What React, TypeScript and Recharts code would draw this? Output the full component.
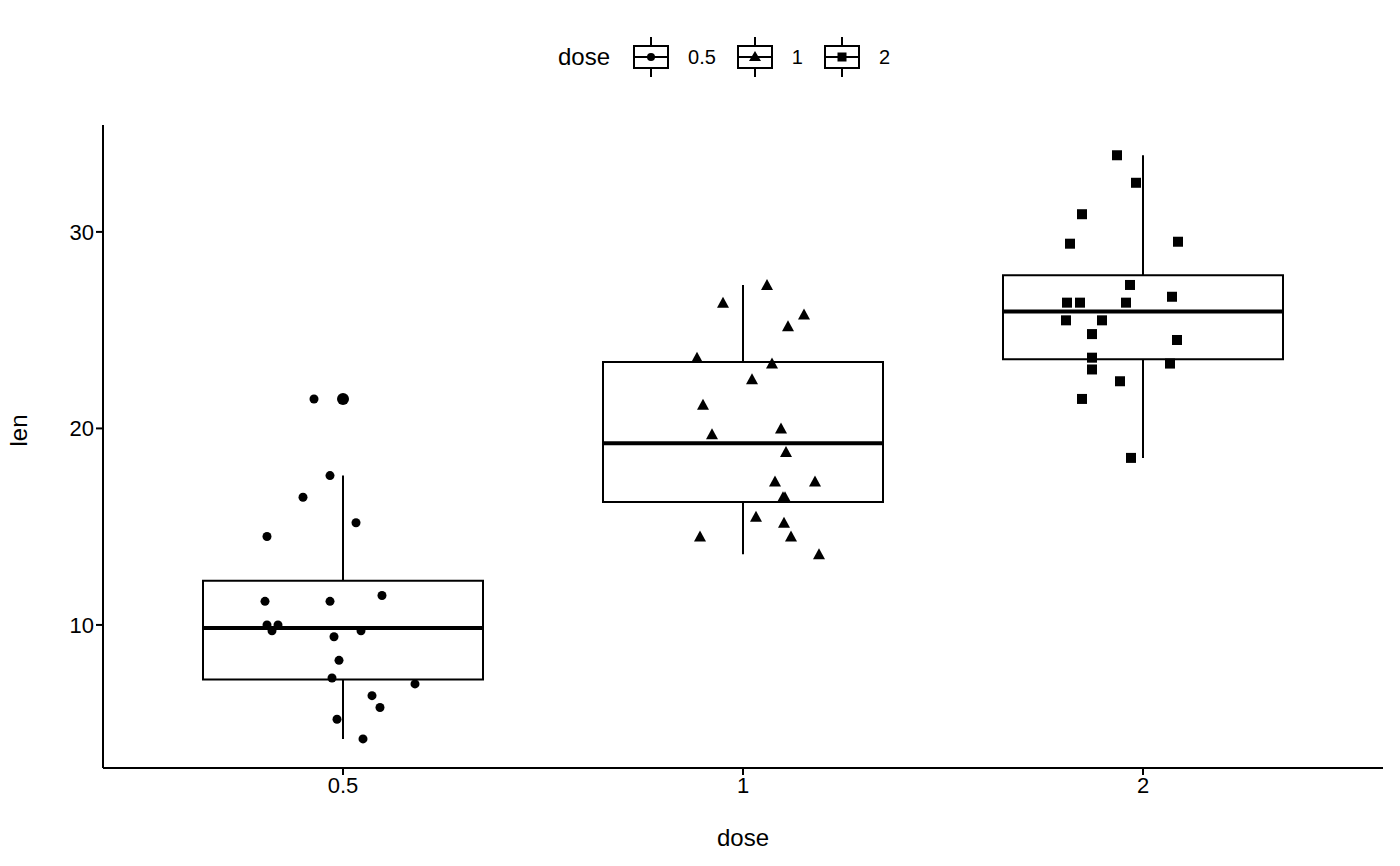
import React from "react";
import { ComposedChart, Scatter, XAxis, YAxis, ReferenceArea, ReferenceLine } from "recharts";

const categories = ["0.5", "1", "2"];
const catPos = [1, 2, 3];
const q1 = [7.225, 16.25, 23.525];
const med = [9.85, 19.25, 25.95];
const q3 = [12.25, 23.375, 27.8];
const wLow = [4.2, 13.6, 18.5];
const wHigh = [17.6, 27.3, 33.9];
const outliers = [{ x: 1, y: 21.5 }];

const len05 = [4.2, 11.5, 7.3, 5.8, 6.4, 10, 11.2, 11.2, 5.2, 7.0, 15.2, 21.5, 17.6, 9.7, 14.5, 10, 8.2, 9.4, 16.5, 9.7];
const jit05 = [0.05, 0.0975, -0.0275, 0.0925, 0.0725, -0.19, -0.0325, -0.195, -0.015, 0.18, 0.0325, -0.0725, -0.0325, -0.1775, -0.19, -0.1625, -0.01, -0.0225, -0.1, 0.045];
const len1 = [27.3, 26.4, 25.8, 25.2, 23.6, 23.3, 22.5, 21.2, 19.7, 20.0, 18.8, 17.3, 17.3, 16.5, 16.5, 15.5, 15.2, 14.5, 14.5, 13.6];
const jit1 = [0.06, -0.05, 0.1525, 0.1125, -0.115, 0.0725, 0.0225, -0.1, -0.0775, 0.095, 0.1075, 0.08, 0.18, 0.1, 0.105, 0.0325, 0.1025, -0.1075, 0.12, 0.19];
const len2 = [33.9, 32.5, 30.9, 29.5, 29.4, 27.3, 26.7, 26.4, 26.4, 26.4, 25.5, 25.5, 24.8, 24.5, 23.6, 23.3, 23.0, 22.4, 21.5, 18.5];
const jit2 = [-0.065, -0.0175, -0.1525, 0.0875, -0.1825, -0.0325, 0.0725, -0.19, -0.1575, -0.0425, -0.1925, -0.1025, -0.1275, 0.085, -0.1275, 0.0675, -0.1275, -0.0575, -0.1525, -0.03];

const pts = (vals: number[], jit: number[], c: number) => vals.map((v, i) => ({ x: c + jit[i], y: v }));

const Circle = (p: any) => <circle cx={p.cx} cy={p.cy} r={4.5} fill="#000" />;
const Big = (p: any) => <circle cx={p.cx} cy={p.cy} r={6} fill="#000" />;
const Tri = (p: any) => <path d={`M${p.cx},${p.cy - 6} L${p.cx + 6},${p.cy + 5} L${p.cx - 6},${p.cy + 5} Z`} fill="#000" />;
const Sq = (p: any) => <rect x={p.cx - 5} y={p.cy - 5} width={10} height={10} fill="#000" />;

const font = "Liberation Sans, Arial, sans-serif";

const LegIcon = ({ kind }: { kind: number }) => (
  <svg width={38} height={40} style={{ display: "block" }}>
    <line x1={19} y1={0} x2={19} y2={40} stroke="#000" strokeWidth={2} />
    <rect x={2} y={9} width={34} height={22} fill="#fff" stroke="#000" strokeWidth={2} />
    <line x1={2} y1={20} x2={36} y2={20} stroke="#000" strokeWidth={2} />
    {kind === 0 && <circle cx={19} cy={20} r={4} />}
    {kind === 1 && <path d="M19,14 L25,24 L13,24 Z" />}
    {kind === 2 && <rect x={14.5} y={15.5} width={9} height={9} />}
  </svg>
);

export default function App() {
  return (
    <div style={{ position: "relative", width: 1400, height: 866, margin: -8, background: "#fff", fontFamily: font }}>
      <div style={{ position: "absolute", top: 37, left: 558, display: "flex", alignItems: "center", fontSize: 24, height: 40 }}>
        <span style={{ marginRight: 22 }}>dose</span>
        {categories.map((c, i) => (
          <React.Fragment key={c}>
            <LegIcon kind={i} />
            <span style={{ fontSize: 20, marginLeft: 18, marginRight: 20 }}>{c}</span>
          </React.Fragment>
        ))}
      </div>
      <div style={{ position: "absolute", top: 0, left: 0 }}>
        <ComposedChart width={1400} height={866} margin={{ top: 125, right: 17, left: 0, bottom: 0 }}>
          <XAxis type="number" dataKey="x" domain={[0.4, 3.6]} ticks={catPos} allowDataOverflow
            tickFormatter={(v: number) => categories[catPos.indexOf(v)] ?? ""}
            height={98} stroke="#000" strokeWidth={2} tickSize={7}
            tick={{ fill: "#000", fontSize: 22, fontFamily: font }}
            label={{ value: "dose", position: "insideBottom", offset: 20, fill: "#000", fontSize: 24, fontFamily: font }} />
          <YAxis type="number" dataKey="y" domain={[2.72, 35.44]} ticks={[10, 20, 30]} allowDataOverflow
            width={103} stroke="#000" strokeWidth={2} tickSize={7}
            tick={{ fill: "#000", fontSize: 22, fontFamily: font }}
            label={{ value: "len", angle: -90, position: "insideLeft", offset: 18, fill: "#000", fontSize: 24, fontFamily: font }} />
          {catPos.map((c, i) => (
            <ReferenceLine key={"wu" + i} segment={[{ x: c, y: q3[i] }, { x: c, y: wHigh[i] }]} stroke="#000" strokeWidth={2} ifOverflow="visible" />
          ))}
          {catPos.map((c, i) => (
            <ReferenceLine key={"wl" + i} segment={[{ x: c, y: wLow[i] }, { x: c, y: q1[i] }]} stroke="#000" strokeWidth={2} ifOverflow="visible" />
          ))}
          {catPos.map((c, i) => (
            <ReferenceArea key={"b" + i} x1={c - 0.35} x2={c + 0.35} y1={q1[i]} y2={q3[i]} fill="none" fillOpacity={0} stroke="#000" strokeWidth={2} strokeOpacity={1} ifOverflow="visible" />
          ))}
          {catPos.map((c, i) => (
            <ReferenceLine key={"m" + i} segment={[{ x: c - 0.35, y: med[i] }, { x: c + 0.35, y: med[i] }]} stroke="#000" strokeWidth={4} ifOverflow="visible" />
          ))}
          <Scatter data={outliers} shape={Big} isAnimationActive={false} />
          <Scatter data={pts(len05, jit05, 1)} shape={Circle} isAnimationActive={false} />
          <Scatter data={pts(len1, jit1, 2)} shape={Tri} isAnimationActive={false} />
          <Scatter data={pts(len2, jit2, 3)} shape={Sq} isAnimationActive={false} />
        </ComposedChart>
      </div>
    </div>
  );
}
